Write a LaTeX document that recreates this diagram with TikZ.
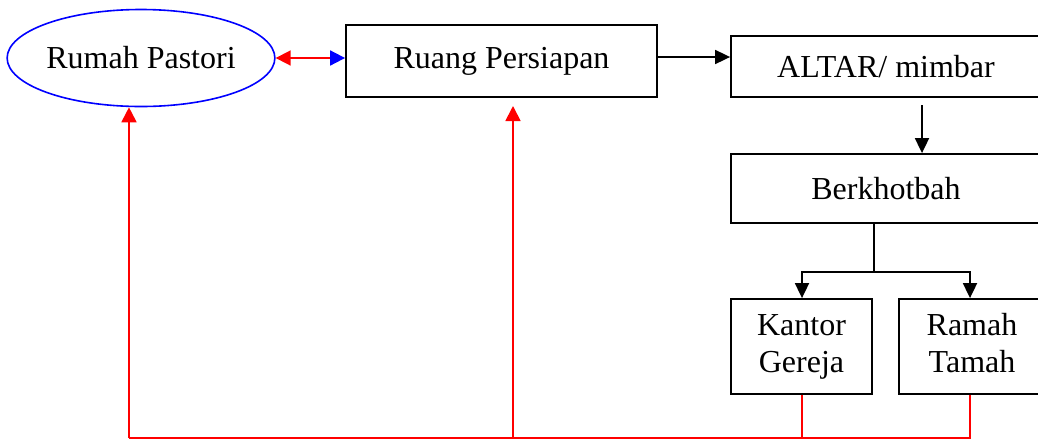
\documentclass[tikz,border=0pt]{standalone}
\usepackage{fontspec}
\setmainfont{Liberation Serif}
\usetikzlibrary{arrows.meta,shapes.geometric}
\begin{document}
\begin{tikzpicture}[x=1pt,y=-1pt,
  every node/.style={font=\fontsize{32}{37}\selectfont, inner sep=0pt, align=center},
  boxnode/.style={draw=black, line width=1.8pt, rectangle},
  blk/.style={draw=black, line width=1.8pt},
  redl/.style={draw=red, line width=1.8pt},
  tipb/.style={-{Triangle[length=15pt,width=14pt]}},
  tipr/.style={-{Triangle[length=15pt,width=15pt,color=red]}}
]
\clip (0,0) rectangle (1038,440);
\fill[white] (0,0) rectangle (1038,440);
\node[draw=blue, line width=1.6pt, ellipse, minimum width=263pt, minimum height=97pt] (E) at (141,58) {Rumah Pastori};
\node[boxnode, minimum width=311pt, minimum height=72pt] (R) at (501.5,61) {\raisebox{4pt}{Ruang Persiapan}};
\node[boxnode, minimum width=310pt, minimum height=61pt] (A) at (886,66.5) {ALTAR/ mimbar};
\node[boxnode, minimum width=310pt, minimum height=69pt] (B) at (886,188.5) {Berkhotbah};
\node[boxnode, minimum width=141pt, minimum height=95pt] (K) at (801.5,346.5) {Kantor\\Gereja};
\node[boxnode, minimum width=146pt, minimum height=95pt] (T) at (972,346.5) {Ramah\\Tamah\vphantom{j}};
\coordinate (ra) at (513,106);
\coordinate (ab) at (922,105);
\coordinate (sp) at (874,272);
\coordinate (ka) at (802,272);
\coordinate (ta) at (970,272);
\coordinate (kb) at (802,438);
\coordinate (tb) at (970,438);
\coordinate (eb) at (129,438);
\coordinate (rb) at (513,438);
% top connectors
\draw[redl, arrows={{Triangle[length=15pt,width=15pt,color=red]}-{Triangle[length=15pt,width=15pt,color=blue]}}] (E.east) -- (R.west |- E.east);
\draw[blk, tipb] (R.east |- 0,57) -- (A.west |- 0,57);
\draw[blk, tipb] (ab) -- (ab |- B.north);
\draw[blk] (sp |- B.south) -- (sp);
\draw[blk, tipb] (sp) -- (ka) -- (ka |- K.north);
\draw[blk, tipb] (sp) -- (ta) -- (ta |- T.north);
% red return lines
\draw[redl] (kb |- K.south) -- (kb);
\draw[redl] (tb |- T.south) -- (tb) -- (eb);
\draw[redl, tipr] (eb) -- (eb |- E.south);
\draw[redl, tipr] (rb) -- (ra);
\end{tikzpicture}
\end{document}
